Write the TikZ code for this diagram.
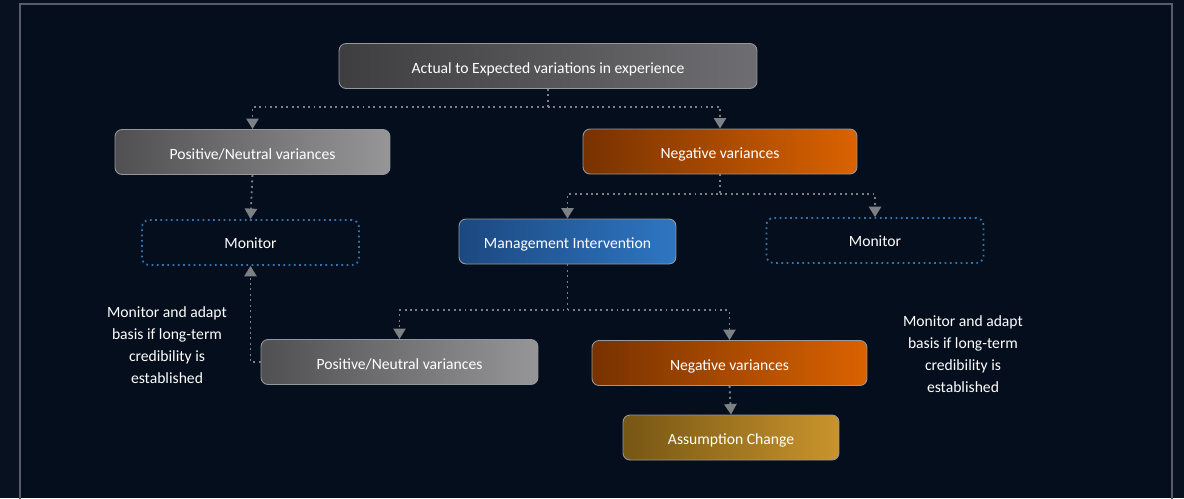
\documentclass[tikz,border=0pt]{standalone}
\usepackage{fontspec}
\setmainfont{Carlito}
\usepackage{tikz}
\usetikzlibrary{arrows.meta, positioning, calc}
\definecolor{BgOuter}{RGB}{8,17,32}
\definecolor{BgInner}{RGB}{5,14,28}
\definecolor{FrameGray}{RGB}{88,92,100}
\definecolor{LineGray}{RGB}{125,128,133}
\definecolor{EdgeGray}{RGB}{150,152,156}
\definecolor{MonBlue}{RGB}{46,117,182}
\definecolor{TopL}{RGB}{62,62,64}
\definecolor{TopR}{RGB}{110,110,114}
\definecolor{PosL}{RGB}{80,80,82}
\definecolor{PosR}{RGB}{150,150,152}
\definecolor{NegL}{RGB}{120,50,0}
\definecolor{NegR}{RGB}{218,98,0}
\definecolor{MgmtL}{RGB}{28,72,128}
\definecolor{MgmtR}{RGB}{46,118,194}
\definecolor{AsmL}{RGB}{118,86,20}
\definecolor{AsmR}{RGB}{202,148,44}

\begin{document}
\begin{tikzpicture}[x=0.02cm, y=-0.02cm,
          box/.style={rectangle, rounded corners=4pt, draw=EdgeGray, line width=0.5pt,
                      minimum height=0.9cm, inner sep=0pt, text=white,
                      text height=8pt, text depth=0pt,
                      font=\fontsize{8.9}{10}\selectfont, align=center},
          mon/.style={rectangle, rounded corners=4pt, draw=MonBlue, line width=1pt,
                      dotted, minimum width=4.34cm, minimum height=0.9cm,
                      text height=7pt, text depth=0pt,
                      inner sep=0pt, text=white, font=\fontsize{8.9}{10}\selectfont},
          note/.style={text=white, align=center, font=\fontsize{8.9}{12.5}\selectfont},
          arr/.style={-{Triangle[length=6pt, width=7pt]}, LineGray, line width=1.1pt,
                      dotted}
        ]
        % background and frame
        \useasboundingbox (0,0) rectangle (1184,498);
        \fill[BgOuter] (0,0) rectangle (1184,498);
        \fill[BgInner] (20,4) rectangle (1172,498);
        \draw[FrameGray, line width=1pt] (20,500) -- (20,4) -- (1172,4) -- (1172,500);

        % boxes
        \node[box, minimum width=8.36cm, left color=TopL, right color=TopR] (top) at (548,66)
              {Actual to Expected variations in experience};
        \node[box, minimum width=5.5cm, left color=PosL, right color=PosR] (pos1) at (252.5,152)
              {Positive/Neutral variances};
        \node[box, minimum width=5.48cm, left color=NegL, right color=NegR] (neg1) at (720,151.5)
              {Negative variances};
        \node[mon] (mon1) at (250.5,242.5) {Monitor};
        \node[box, minimum width=4.34cm, left color=MgmtL, right color=MgmtR] (mgmt) at (567.5,241.5)
              {Management Intervention};
        \node[mon] (mon2) at (875,240.5) {Monitor};
        \node[box, minimum width=5.54cm, left color=PosL, right color=PosR] (pos2) at (399.5,362)
              {Positive/Neutral variances};
        \node[box, minimum width=5.5cm, left color=NegL, right color=NegR] (neg2) at (729.5,363)
              {Negative variances};
        \node[box, minimum width=4.32cm, left color=AsmL, right color=AsmR] (asm) at (731,437.5)
              {Assumption Change};

        % side notes
        \node[note] (noteL) at (167,345)
              {Monitor and adapt\\basis if long-term\\credibility is\\established};
        \node[note] (noteR) at (963,354)
              {Monitor and adapt\\basis if long-term\\credibility is\\established};

        % connectors
        \coordinate (j1) at ($(top.south)+(0,18)$);
        \coordinate (j2) at ($(neg1.south)+(0,20)$);
        \coordinate (j3) at ($(mgmt.south)+(0,46)$);
        \draw[arr] (top.south) -- (j1) -| (pos1.north);
        \draw[arr] (j1) -| (neg1.north);
        \draw[arr] (pos1.south) -- (mon1.north);
        \draw[arr] (neg1.south) -- (j2) -| (mgmt.north);
        \draw[arr] (j2) -| (mon2.north);
        \draw[arr] (mgmt.south) -- (j3) -| (pos2.north);
        \draw[arr] (j3) -| (neg2.north);
        \draw[arr] (pos2.west) -| (mon1.south);
        \draw[arr] (neg2.south) -- (asm.north);
      \end{tikzpicture}
\end{document}
